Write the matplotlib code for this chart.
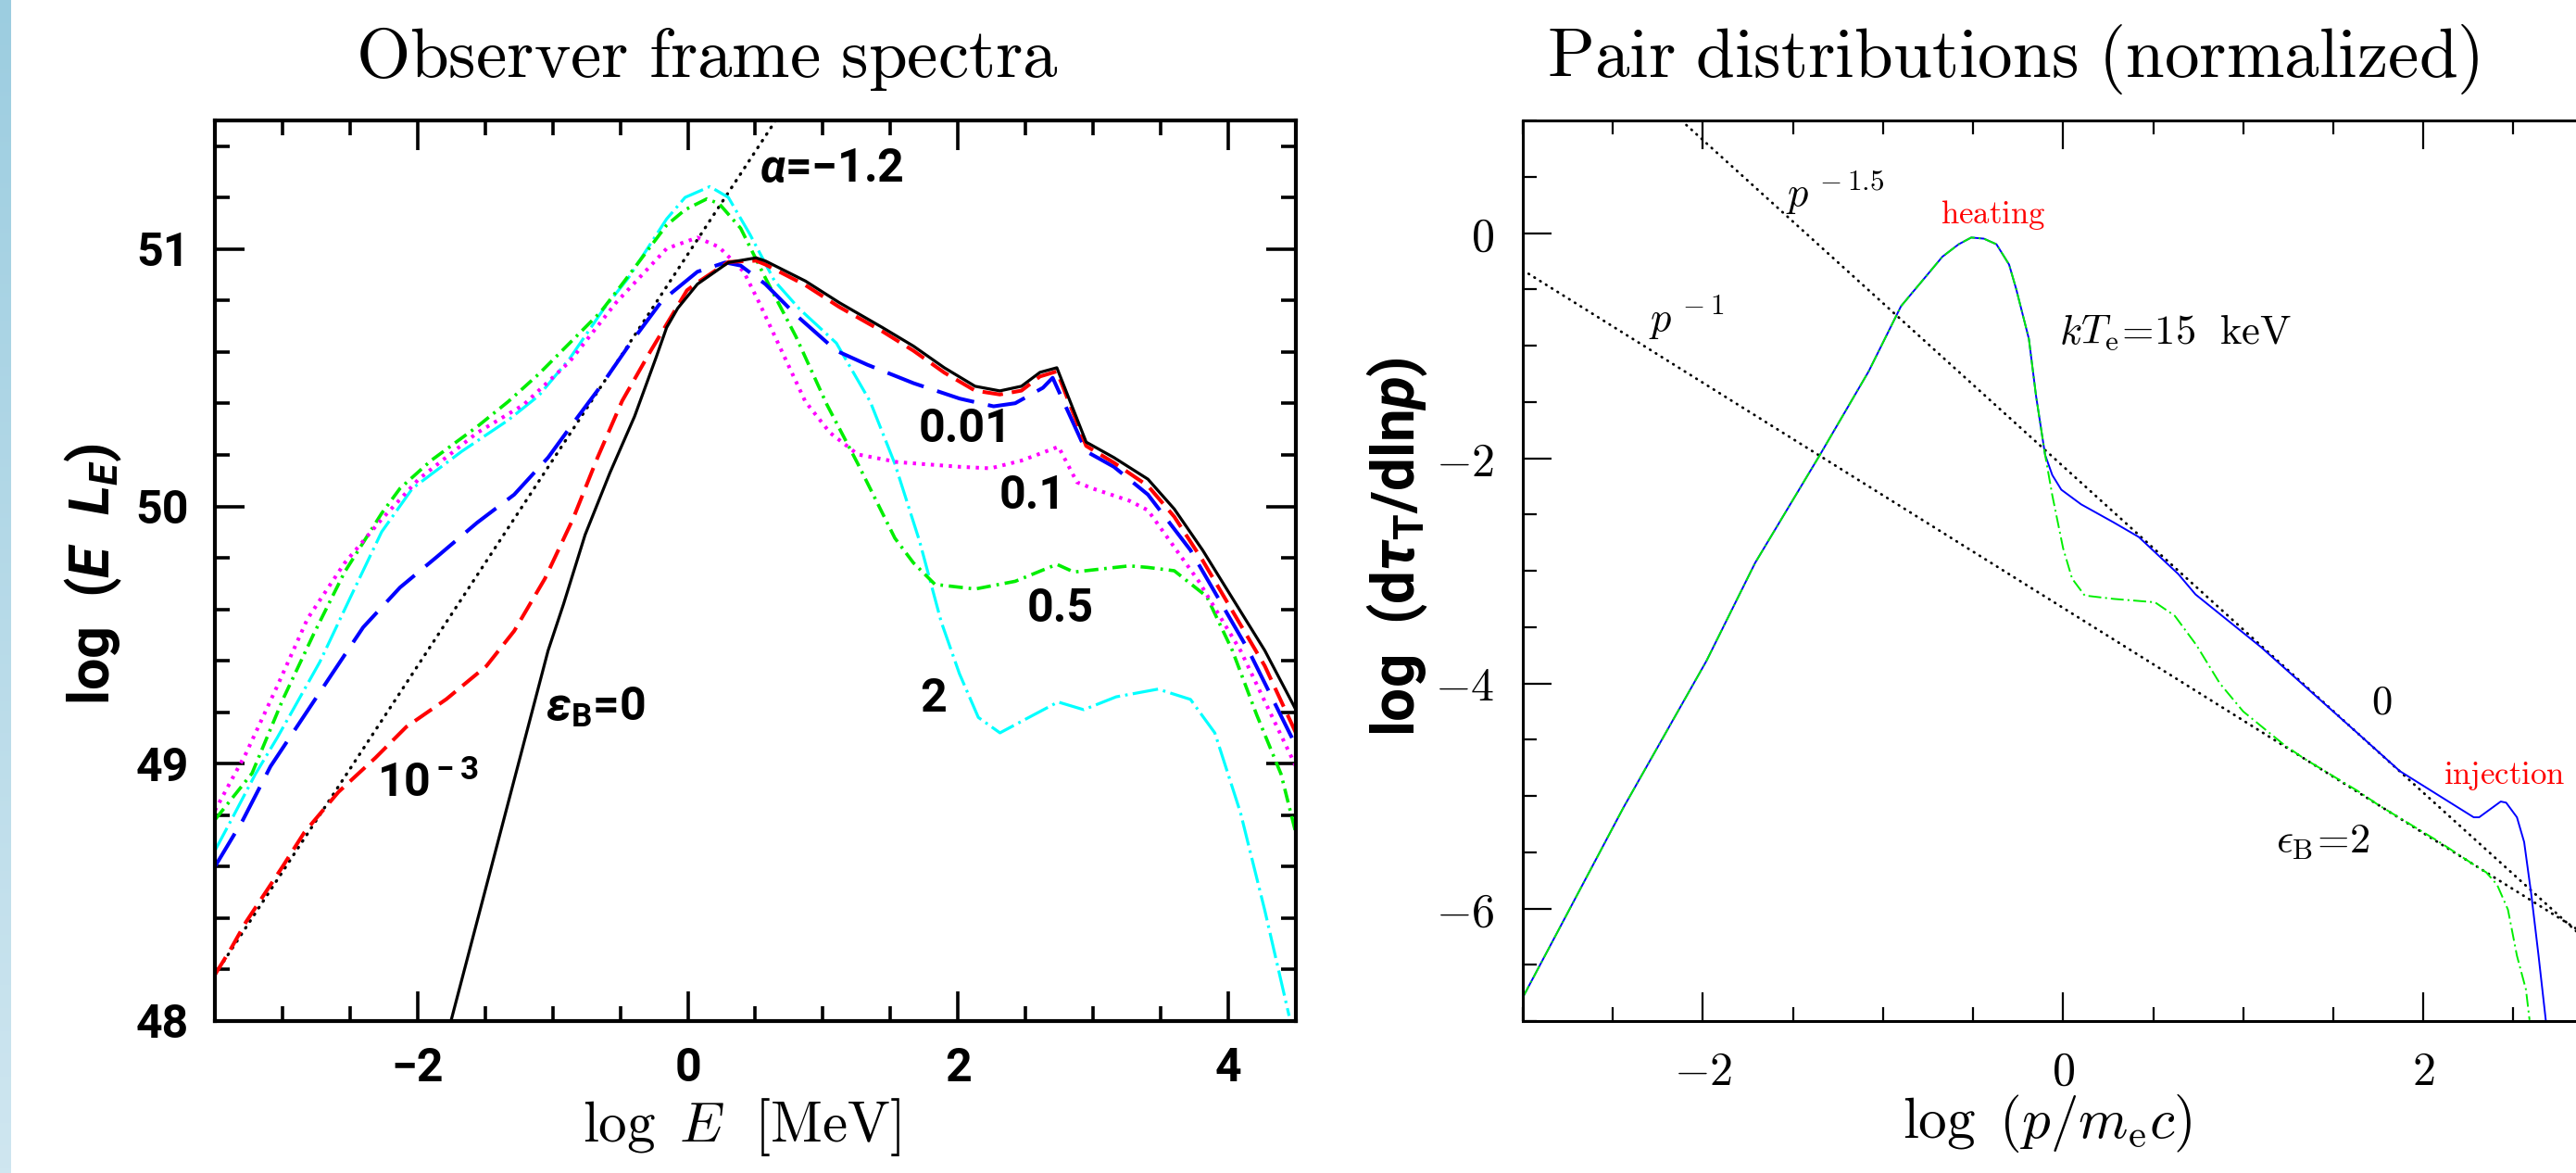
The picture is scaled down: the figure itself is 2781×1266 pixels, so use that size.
import numpy as np
import matplotlib.pyplot as plt
from matplotlib.ticker import MultipleLocator
from matplotlib.colors import LinearSegmentedColormap

plt.rcParams['mathtext.fontset'] = 'cm'
# used only by texts that ask for math_fontfamily='custom'
plt.rcParams['mathtext.rm'] = 'Roboto:bold'
plt.rcParams['mathtext.bf'] = 'Roboto:bold'
plt.rcParams['mathtext.it'] = 'Roboto:italic:bold'
plt.rcParams['lines.scale_dashes'] = False

# ---- left panel: observer frame spectra, log(E L_E) vs log E ----
e0_x = [-1.753, -1.034, -0.92, -0.76, -0.577, -0.394, -0.234, -0.157, -0.075, 0.071, 0.300,
        0.505, 0.574, 0.87, 1.121, 1.441, 1.67, 1.898, 2.126, 2.309, 2.469, 2.606, 2.731,
        2.948, 3.153, 3.405, 3.60, 3.81, 4.27, 4.5]
e0_y = [48.0, 49.44, 49.62, 49.89, 50.13, 50.35, 50.58, 50.695, 50.77, 50.864, 50.948,
        50.966, 50.954, 50.876, 50.792, 50.695, 50.623, 50.539, 50.467, 50.449, 50.467,
        50.521, 50.539, 50.25, 50.19, 50.106, 49.99, 49.83, 49.44, 49.21]

e3_x = [-3.5, -3.386, -3.27, -3.134, -2.997, -2.837, -2.586, -2.312, -2.084, -1.787, -1.49,
        -1.285, -1.057, -0.851, -0.668, -0.486, -0.28, -0.006, 0.071, 0.3, 0.505, 0.574,
        0.87, 1.121, 1.441, 1.67, 1.898, 2.126, 2.309, 2.469, 2.606, 2.731, 2.948, 3.153,
        3.405, 3.60, 3.81, 4.27, 4.5]
e3_y = [48.18, 48.277, 48.385, 48.493, 48.602, 48.734, 48.89, 49.023, 49.143, 49.251, 49.38,
        49.516, 49.72, 49.95, 50.19, 50.41, 50.60, 50.84, 50.87, 50.95, 50.955, 50.94,
        50.86, 50.775, 50.68, 50.605, 50.52, 50.45, 50.435, 50.45, 50.505, 50.525, 50.235,
        50.17, 50.08, 49.96, 49.79, 49.38, 49.12]

e01_x = [-3.5, -3.294, -3.088, -2.86, -2.632, -2.403, -2.13, -1.855, -1.559, -1.285, -1.034,
         -0.851, -0.645, -0.44, -0.19, 0.071, 0.277, 0.391, 0.574, 0.80, 1.099, 1.327, 1.67,
         2.012, 2.263, 2.423, 2.628, 2.70, 2.948, 3.153, 3.405, 3.72, 4.15, 4.5]
e01_y = [48.60, 48.78, 48.99, 49.17, 49.35, 49.53, 49.685, 49.805, 49.937, 50.046, 50.19,
         50.322, 50.467, 50.623, 50.80, 50.912, 50.948, 50.936, 50.864, 50.744, 50.605,
         50.551, 50.479, 50.419, 50.389, 50.401, 50.461, 50.50, 50.214, 50.154, 50.046,
         49.83, 49.44, 49.07]

e1_x = [-3.5, -3.27, -3.04, -2.814, -2.54, -2.266, -1.992, -1.559, -1.216, -0.874, -0.531,
        -0.157, 0.071, 0.231, 0.414, 0.528, 0.71, 0.87, 1.053, 1.258, 1.555, 2.012, 2.24,
        2.469, 2.743, 2.88, 2.994, 3.268, 3.405, 3.78, 4.09, 4.5]
e1_y = [48.818, 49.04, 49.30, 49.564, 49.78, 49.95, 50.106, 50.286, 50.395, 50.563, 50.792,
        51.002, 51.045, 51.008, 50.912, 50.792, 50.587, 50.407, 50.286, 50.202, 50.172,
        50.154, 50.148, 50.178, 50.232, 50.094, 50.07, 50.022, 49.985, 49.71, 49.44, 48.99]

e5_x = [-3.5, -3.225, -2.997, -2.769, -2.54, -2.266, -2.13, -1.901, -1.559, -1.33, -1.102,
        -0.874, -0.645, -0.486, -0.157, -0.02, 0.14, 0.231, 0.391, 0.574, 0.80, 1.03, 1.258,
        1.532, 1.669, 1.829, 2.126, 2.423, 2.731, 2.857, 3.267, 3.405, 3.60, 3.84, 4.03,
        4.21, 4.39, 4.5]
e5_y = [48.782, 48.963, 49.25, 49.504, 49.745, 49.973, 50.07, 50.178, 50.31, 50.407, 50.515,
        50.635, 50.756, 50.864, 51.093, 51.153, 51.195, 51.177, 51.081, 50.888, 50.66,
        50.395, 50.166, 49.877, 49.781, 49.697, 49.679, 49.709, 49.775, 49.745, 49.769,
        49.763, 49.75, 49.65, 49.44, 49.19, 48.96, 48.73]

e2_x = [-3.5, -3.36, -3.2, -3.04, -2.928, -2.723, -2.495, -2.266, -2.038, -1.673, -1.33,
        -1.102, -0.874, -0.622, -0.44, -0.157, -0.02, 0.163, 0.30, 0.46, 0.642, 0.825,
        1.099, 1.35, 1.532, 1.715, 1.875, 2.01, 2.15, 2.31, 2.56, 2.74, 2.93, 3.17, 3.48,
        3.72, 3.90, 4.09, 4.27, 4.45]
e2_y = [48.662, 48.80, 48.96, 49.10, 49.204, 49.396, 49.649, 49.901, 50.07, 50.214, 50.335,
        50.431, 50.575, 50.768, 50.888, 51.117, 51.201, 51.243, 51.201, 51.057, 50.876,
        50.768, 50.635, 50.407, 50.166, 49.865, 49.552, 49.35, 49.18, 49.12, 49.19, 49.24,
        49.21, 49.26, 49.29, 49.25, 49.12, 48.81, 48.43, 48.02]

alpha_x = [-3.5, 0.65]
alpha_y = [48.18, 51.5]

left_xt = [-2, 0, 2, 4]
left_xl = ['\u22122', '0', '2', '4']
left_yt = [48, 49, 50, 51]
left_yl = ['48', '49', '50', '51']

# ---- right panel: pair distributions ----
p0_x = [-3.0, -2.44, -1.98, -1.71, -1.35, -1.08, -0.90, -0.67, -0.58, -0.51, -0.44, -0.37,
        -0.30, -0.26, -0.19, -0.15, -0.10, -0.06, -0.01, 0.10, 0.28, 0.42, 0.64, 0.735, 1.10,
        1.64, 1.87, 2.09, 2.28, 2.31, 2.43, 2.46, 2.52, 2.56, 2.60, 2.64, 2.68]
p0_y = [-6.79, -5.10, -3.80, -2.93, -1.97, -1.23, -0.65, -0.21, -0.10, -0.04, -0.05, -0.10,
        -0.28, -0.50, -0.94, -1.45, -1.97, -2.15, -2.28, -2.41, -2.57, -2.70, -3.03, -3.21,
        -3.68, -4.45, -4.78, -5.00, -5.19, -5.19, -5.05, -5.06, -5.19, -5.41, -5.88, -6.42,
        -6.99]

p2_x = [-3.0, -2.44, -1.98, -1.71, -1.35, -1.08, -0.90, -0.67, -0.58, -0.51, -0.44, -0.37,
        -0.30, -0.26, -0.19, -0.15, -0.10, -0.06, 0.0, 0.05, 0.12, 0.28, 0.51, 0.62, 0.74,
        0.87, 1.0, 1.23, 1.34, 1.64, 1.75, 2.09, 2.27, 2.35, 2.41, 2.47, 2.52, 2.57, 2.59]
p2_y = [-6.79, -5.10, -3.80, -2.93, -1.97, -1.23, -0.65, -0.21, -0.10, -0.04, -0.05, -0.10,
        -0.28, -0.50, -0.94, -1.45, -1.97, -2.33, -2.80, -3.07, -3.22, -3.25, -3.28, -3.40,
        -3.66, -4.00, -4.25, -4.55, -4.67, -4.96, -5.08, -5.41, -5.60, -5.68, -5.79, -6.01,
        -6.42, -6.72, -6.99]

pl15_x = [-2.12, 4.0]
pl15_y = [1.0, -7.87]
pl1_x = [-3.0, 4.0]
pl1_y = [-0.33, -7.33]

right_xt = [-2, 0, 2]
right_xl = [r'$-2$', r'$0$', r'$2$']
right_yt = [-6, -4, -2, 0]
right_yl = [r'$-6$', r'$-4$', r'$-2$', r'$0$']

W, H = 2781, 1266
fig = plt.figure(figsize=(W / 100, H / 100), dpi=100)

# light blue strip on the far left edge
strip = fig.add_axes([0, 0, 12 / W, 1])
grad = np.linspace(0, 1, 256).reshape(-1, 1)
cm_strip = LinearSegmentedColormap.from_list('s', ['#9ccde0', '#cfe6f0'])
strip.imshow(grad, aspect='auto', cmap=cm_strip, extent=[0, 1, 0, 1], origin='upper')
strip.set_axis_off()

bold = dict(fontfamily='Roboto', fontweight='bold')

axL = fig.add_axes([232 / W, 164 / H, 1167 / W, 972 / H])
axL.plot(alpha_x, alpha_y, color='black', lw=2.4, dashes=(0.6, 5.6), dash_capstyle='round')
axL.plot(e2_x, e2_y, color='#00ffff', lw=2.3, dashes=(20, 4, 2, 4))
axL.plot(e5_x, e5_y, color='#00ee00', lw=2.6, dashes=(11, 4.5, 2, 4.5))
axL.plot(e1_x, e1_y, color='#ff00ff', lw=2.9, dashes=(2.5, 4.5))
axL.plot(e01_x, e01_y, color='#0000ff', lw=2.9, dashes=(30, 11))
axL.plot(e3_x, e3_y, color='#ff0000', lw=2.9, dashes=(16, 7))
axL.plot(e0_x, e0_y, color='black', lw=2.3)
axL.set_xlim(-3.5, 4.5)
axL.set_ylim(48, 51.5)
axL.set_xticks(left_xt)
axL.set_xticklabels(left_xl, fontsize=36, **bold)
axL.set_yticks(left_yt)
axL.set_yticklabels(left_yl, fontsize=36, **bold)
axL.xaxis.set_minor_locator(MultipleLocator(0.5))
axL.yaxis.set_minor_locator(MultipleLocator(0.2))
axL.tick_params(which='both', direction='in', top=True, right=True, width=2.6, pad=20)
axL.tick_params(which='major', length=23)
axL.tick_params(which='minor', length=11.5)
for s in axL.spines.values():
    s.set_linewidth(3.0)

lab = dict(fontsize=36, va='center', math_fontfamily='custom', **bold)
axL.text(0.53, 51.31, '$\\alpha$=\u22121.2', ha='left', **lab)
axL.text(2.05, 50.30, '0.01', ha='center', **lab)
axL.text(2.55, 50.04, '0.1', ha='center', **lab)
axL.text(2.76, 49.60, '0.5', ha='center', **lab)
axL.text(1.82, 49.25, '2', ha='center', **lab)
axL.text(-1.05, 49.22, r'$\epsilon_{\rm B}$=0', ha='left', **lab)
axL.text(-2.30, 48.92, r'10$^{\rm -3}$', ha='left', **lab)

axR = fig.add_axes([1644 / W, 164 / H, 1361 / W, 972 / H])
axR.plot(pl15_x, pl15_y, color='black', lw=2.0, dashes=(0.5, 4.8), dash_capstyle='round')
axR.plot(pl1_x, pl1_y, color='black', lw=2.0, dashes=(0.5, 4.8), dash_capstyle='round')
axR.plot(p0_x, p0_y, color='#0000ff', lw=1.4)
axR.plot(p2_x, p2_y, color='#00ee00', lw=1.4, dashes=(10, 3, 1.5, 3))
axR.set_xlim(-3, 4)
axR.set_ylim(-7, 1)
axR.set_xticks(right_xt)
axR.set_xticklabels(right_xl, fontsize=36)
axR.set_yticks(right_yt)
axR.set_yticklabels(right_yl, fontsize=36)
axR.xaxis.set_minor_locator(MultipleLocator(0.5))
axR.yaxis.set_minor_locator(MultipleLocator(0.5))
axR.tick_params(which='both', direction='in', top=True, right=True, width=1.6, pad=22)
axR.tick_params(which='major', length=22)
axR.tick_params(which='minor', length=11)
for s in axR.spines.values():
    s.set_linewidth(2.2)

axR.text(-1.54, 0.36, r'$p^{\,-1.5}$', ha='left', va='center', fontsize=32)
axR.text(-2.30, -0.76, r'$p^{\,-1}$', ha='left', va='center', fontsize=32)
axR.text(-0.39, 0.16, r'$\mathrm{heating}$', color='red', ha='center', va='center', fontsize=25)
axR.text(-0.02, -0.88, r'$kT_{\rm e}\!=\!15\ \ \mathrm{keV}$', ha='left', va='center', fontsize=32)
axR.text(1.77, -4.17, r'$0$', ha='center', va='center', fontsize=32)
axR.text(2.11, -4.82, r'$\mathrm{injection}$', color='red', ha='left', va='center', fontsize=25)
axR.text(1.18, -5.41, r'$\epsilon_{\rm B}\!=\!2$', ha='left', va='center', fontsize=32)

# titles and axis labels
fig.text(763 / W, 1 - 83 / H, r'$\mathrm{Observer\ frame\ spectra}$', ha='center',
         va='baseline', fontsize=54)
fig.text(2173 / W, 1 - 83 / H, r'$\mathrm{Pair\ distributions\ (normalized)}$', ha='center',
         va='baseline', fontsize=54)
fig.text(801 / W, 1 - 1232 / H, r'$\log\ E\ \ [\mathrm{MeV}]$', ha='center', va='baseline',
         fontsize=44)
fig.text(2210 / W, 1 - 1228 / H, r'$\log\ (p/m_{\rm e}c)$', ha='center', va='baseline',
         fontsize=44)
fig.text(101 / W, 1 - 620 / H, r'log  ($E\ \ L_E$)', rotation=90, ha='center', va='center',
         fontsize=44, math_fontfamily='custom', **bold)
fig.text(1508 / W, 1 - 590 / H, r'log  (d$\tau_{\rm T}$/dln$p$)', rotation=90, ha='center',
         va='center', fontsize=46, math_fontfamily='custom', **bold)

fig.savefig('out.png', dpi=100)
